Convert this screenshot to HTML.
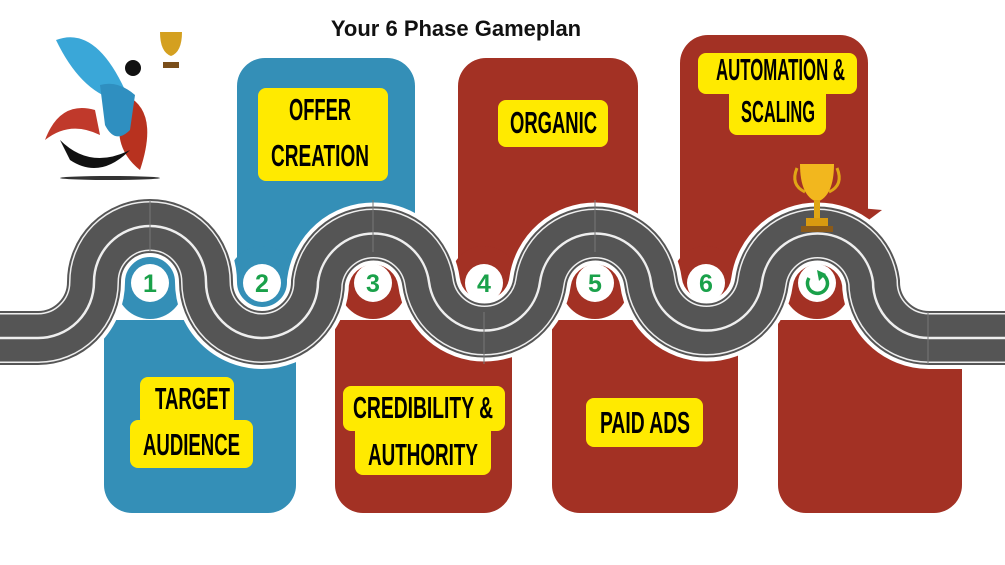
<!DOCTYPE html>
<html><head><meta charset="utf-8"><style>
html,body{margin:0;padding:0;background:#fff;}
svg{display:block}
.t{font-family:"Liberation Sans Narrow","Liberation Sans",sans-serif;font-weight:bold;font-size:31px;fill:#000}
.n{font-family:"Liberation Sans",sans-serif;font-weight:bold;font-size:25px;fill:#1aa14a}
</style></head><body>
<svg width="1005" height="565" viewBox="0 0 1005 565" xmlns="http://www.w3.org/2000/svg">
<text x="456" y="36" text-anchor="middle" font-family="Liberation Sans, sans-serif" font-weight="bold" font-size="22" fill="#111">Your 6 Phase Gameplan</text>

<!-- panels -->
<g fill="#348fb7">
<path d="M104 320 H296 V485 a28 28 0 0 1 -28 28 H132 a28 28 0 0 1 -28 -28 Z"/>
<circle cx="150" cy="285" r="34"/>
<path d="M237 86 a28 28 0 0 1 28 -28 H387 a28 28 0 0 1 28 28 V300 H237 Z"/>
<circle cx="262" cy="280" r="34"/>
</g>
<g fill="#a33124">
<path d="M335 320 H512 V485 a28 28 0 0 1 -28 28 H363 a28 28 0 0 1 -28 -28 Z"/>
<circle cx="373" cy="285" r="34"/>
<path d="M458 86 a28 28 0 0 1 28 -28 H610 a28 28 0 0 1 28 28 V300 H458 Z"/>
<circle cx="484" cy="280" r="34"/>
<path d="M552 320 H738 V485 a28 28 0 0 1 -28 28 H580 a28 28 0 0 1 -28 -28 Z"/>
<circle cx="595" cy="285" r="34"/>
<path d="M680 63 a28 28 0 0 1 28 -28 H840 a28 28 0 0 1 28 28 V300 H680 Z"/>
<circle cx="706" cy="280" r="34"/>
<path d="M860 208 L882 210 L866 222 Z"/>
<path d="M778 320 H962 V485 a28 28 0 0 1 -28 28 H806 a28 28 0 0 1 -28 -28 Z"/>
<circle cx="817" cy="285" r="34"/>
</g>

<!-- road -->
<defs>
<path id="r" d="M0 338 H38 A56 56 0 0 0 94 282 A56 56 0 0 1 206 282 A56 56 0 0 0 318 282 A56 56 0 0 1 429 282 A56 56 0 0 0 540 282 A56 56 0 0 1 651 282 A56 56 0 0 0 762 282 A56 56 0 0 1 873 282 A56 56 0 0 0 929 338 H1005"/>
</defs>
<g fill="none">
<use href="#r" stroke="#fff" stroke-width="62"/>
<use href="#r" stroke="#555" stroke-width="54"/>
<use href="#r" stroke="#eee" stroke-width="50"/>
<use href="#r" stroke="#555" stroke-width="47"/>
<use href="#r" stroke="#eee" stroke-width="2.5"/>
</g>
<g stroke="#777" stroke-width="1">
<line x1="150" y1="200" x2="150" y2="252"/><line x1="373" y1="200" x2="373" y2="252"/>
<line x1="595" y1="200" x2="595" y2="252"/><line x1="484" y1="312" x2="484" y2="364"/>
<line x1="928" y1="312" x2="928" y2="364"/>
</g>

<!-- number circles -->
<g fill="#fff">
<circle cx="150" cy="283" r="19"/><circle cx="262" cy="283" r="19"/><circle cx="373" cy="283" r="19"/>
<circle cx="484" cy="283" r="19"/><circle cx="595" cy="283" r="19"/><circle cx="706" cy="283" r="19"/>
<circle cx="817" cy="283" r="19"/>
</g>
<g text-anchor="middle">
<text x="150" y="292" class="n">1</text><text x="262" y="292" class="n">2</text><text x="373" y="292" class="n">3</text>
<text x="484" y="292" class="n">4</text><text x="595" y="292" class="n">5</text><text x="706" y="292" class="n">6</text>
</g>
<path d="M823 275 A10 10 0 1 1 809 278" fill="none" stroke="#1aa14a" stroke-width="3.5"/>
<path d="M817 270 L826 274 L819 281 Z" fill="#1aa14a"/>

<!-- trophy -->
<g>
<path d="M797 168 Q790 185 805 192" fill="none" stroke="#e0a615" stroke-width="3"/>
<path d="M837 168 Q844 185 829 192" fill="none" stroke="#e0a615" stroke-width="3"/>
<path d="M800 164 H834 Q834 196 817 202 Q800 196 800 164 Z" fill="#f2b71e"/>
<rect x="814" y="200" width="6" height="18" fill="#e0a615"/>
<rect x="806" y="218" width="22" height="8" fill="#d89a10"/>
<rect x="801" y="226" width="32" height="6" fill="#8a5a1a"/>
</g>

<!-- yellow labels -->
<g fill="#ffea00">
<rect x="258" y="88" width="130" height="93" rx="8"/>
<rect x="498" y="100" width="110" height="47" rx="8"/>
<rect x="698" y="53" width="159" height="41" rx="8"/>
<rect x="729" y="80" width="97" height="55" rx="8"/>
<rect x="140" y="377" width="94" height="50" rx="8"/>
<rect x="130" y="420" width="123" height="48" rx="8"/>
<rect x="343" y="386" width="162" height="45" rx="8"/>
<rect x="355" y="420" width="136" height="55" rx="8"/>
<rect x="586" y="398" width="117" height="49" rx="8"/>
</g>
<g class="t">
<text x="289" y="120" textLength="62" lengthAdjust="spacingAndGlyphs">OFFER</text>
<text x="271" y="166" textLength="98" lengthAdjust="spacingAndGlyphs">CREATION</text>
<text x="510" y="133" textLength="87" lengthAdjust="spacingAndGlyphs">ORGANIC</text>
<text x="716" y="80" textLength="129" lengthAdjust="spacingAndGlyphs">AUTOMATION &amp;</text>
<text x="741" y="122" textLength="74" lengthAdjust="spacingAndGlyphs">SCALING</text>
<text x="155" y="409" textLength="75" lengthAdjust="spacingAndGlyphs">TARGET</text>
<text x="143" y="455" textLength="97" lengthAdjust="spacingAndGlyphs">AUDIENCE</text>
<text x="353" y="418" textLength="140" lengthAdjust="spacingAndGlyphs">CREDIBILITY &amp;</text>
<text x="368" y="465" textLength="110" lengthAdjust="spacingAndGlyphs">AUTHORITY</text>
<text x="600" y="433" textLength="90" lengthAdjust="spacingAndGlyphs">PAID ADS</text>
</g>

<!-- logo approximation -->
<g>
<path d="M56 40 Q95 25 125 90 L115 100 Q80 90 56 40Z" fill="#3aa7d8"/>
<path d="M95 110 Q60 100 45 140 Q70 120 100 135Z" fill="#c0392b"/>
<path d="M125 95 Q160 110 140 170 Q115 150 120 120Z" fill="#b8321f"/>
<path d="M100 85 Q118 80 135 95 L130 130 Q115 145 105 125 Z" fill="#2f8fc0"/>
<circle cx="133" cy="68" r="8" fill="#111"/>
<path d="M60 140 Q90 170 130 150 Q100 180 70 160Z" fill="#111"/>
<path d="M160 32 H182 Q182 52 171 56 Q160 52 160 32Z" fill="#d4a020"/>
<rect x="163" y="62" width="16" height="6" fill="#7a4e1a"/>
<ellipse cx="110" cy="178" rx="50" ry="2" fill="#333"/>
</g>
</svg>
</body></html>
